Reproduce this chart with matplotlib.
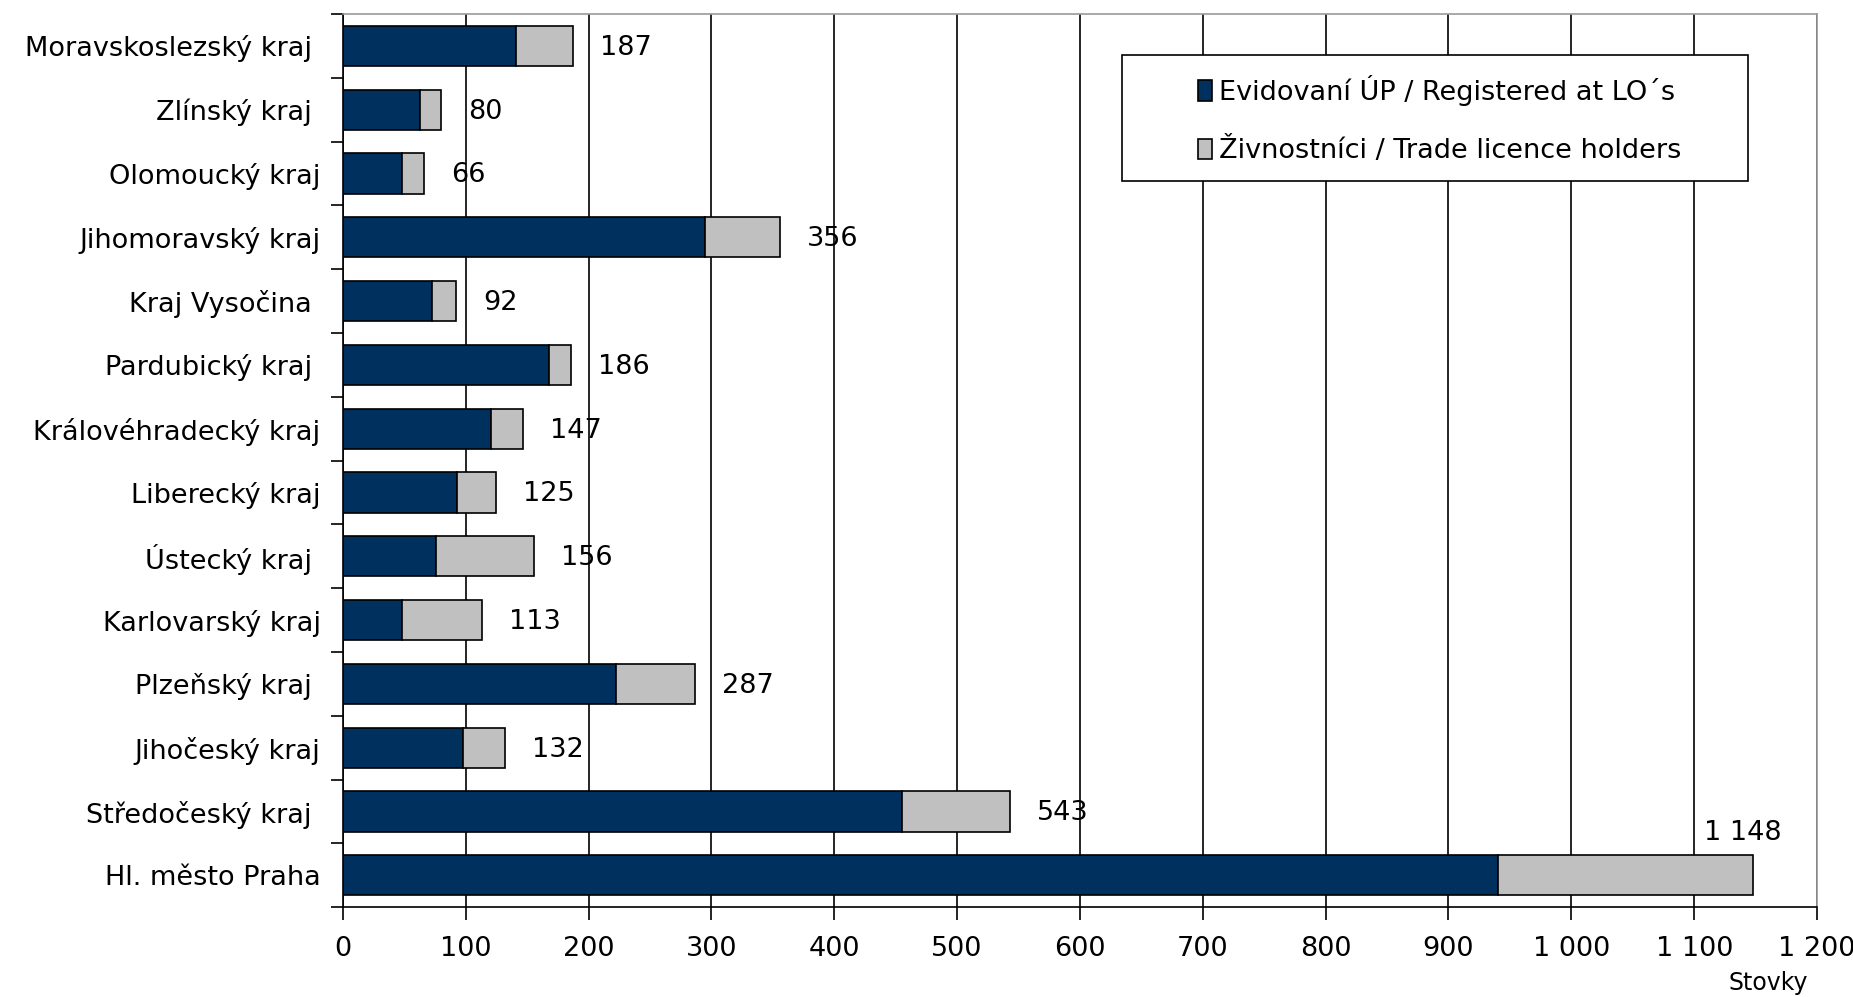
import numpy as np
import matplotlib.pyplot as plt
from matplotlib.patches import Rectangle
from matplotlib.ticker import FuncFormatter, FixedLocator

# kraje shora dolu, jak jsou v grafu
regions = ['Moravskoslezský kraj ', 'Zlínský kraj ', 'Olomoucký kraj', 'Jihomoravský kraj',
           'Kraj Vysočina ', 'Pardubický kraj ', 'Královéhradecký kraj', 'Liberecký kraj',
           'Ústecký kraj ', 'Karlovarský kraj', 'Plzeňský kraj ', 'Jihočeský kraj',
           'Středočeský kraj ', 'Hl. město Praha']
registered = [141, 63, 48, 295, 73, 168, 121, 93, 76, 48, 222, 98, 455, 940]
trade = [46, 17, 18, 61, 19, 18, 26, 32, 80, 65, 65, 34, 88, 208]
totals = [187, 80, 66, 356, 92, 186, 147, 125, 156, 113, 287, 132, 543, 1148]
x_ticks = [0, 100, 200, 300, 400, 500, 600, 700, 800, 900, 1000, 1100, 1200]

plt.rcParams['font.family'] = ['DejaVu Sans']
fs = 19.5

fig = plt.figure(figsize=(18.53, 9.97), dpi=100)
ax = fig.add_axes([0.185, 0.090, 0.7956, 0.896])

y = np.arange(len(regions))
ax.barh(y, registered, height=0.63, color='#00305E', edgecolor='black', linewidth=1.2,
        label='Evidovaní ÚP / Registered at LO´s', zorder=3)
ax.barh(y, trade, left=registered, height=0.63, color='#C0C0C0', edgecolor='black',
        linewidth=1.2, label='Živnostníci / Trade licence holders', zorder=3)

def fmt(v):
    return f'{int(v):,}'.replace(',', ' ')

# popisky souctu za sloupci, u Prahy nad sloupcem
for i, t in enumerate(totals):
    if i == len(totals) - 1:
        ax.text(t - 40, i - 0.66, fmt(t), fontsize=fs, ha='left', va='center', zorder=4)
    else:
        ax.text(t + 22, i + 0.03, fmt(t), fontsize=fs, ha='left', va='center', zorder=4)

ax.set_xlim(0, 1200)
ax.set_ylim(len(regions) - 0.5, -0.5)
ax.set_xticks(x_ticks)
ax.xaxis.set_major_formatter(FuncFormatter(lambda v, p: fmt(v)))
ax.xaxis.grid(True, color='black', linewidth=1.2, zorder=0)
ax.set_axisbelow(True)

ax.set_yticks(y)
ax.set_yticklabels(regions)
ax.yaxis.set_minor_locator(FixedLocator(np.arange(-0.5, len(regions), 1.0)))
ax.tick_params(axis='y', which='major', length=0, pad=16, labelsize=fs)
ax.tick_params(axis='y', which='minor', length=9, width=1.2, direction='out')
ax.tick_params(axis='x', which='major', length=9, width=1.2, direction='out', pad=12,
               labelsize=fs)

for s in ['left', 'bottom']:
    ax.spines[s].set_color('black')
    ax.spines[s].set_linewidth(1.2)
for s in ['top', 'right']:
    ax.spines[s].set_color('#999999')
    ax.spines[s].set_linewidth(1.2)

# ramecek legendy je sirsi nez jeji obsah
ax.add_patch(Rectangle((0.5285, 0.8132), 0.425, 0.1404, transform=ax.transAxes,
                       facecolor='white', edgecolor='black', linewidth=1.2, zorder=5))
leg = ax.legend(loc='center left', bbox_to_anchor=(0.5798, 0.8815), fontsize=fs,
                frameon=False, handlelength=0.55, handleheight=0.8, handletextpad=0.25,
                borderpad=0, labelspacing=1.15, borderaxespad=0)
leg.set_zorder(6)

fig.text(0.9545, 0.002, 'Stovky', fontsize=17, ha='center', va='bottom')

plt.savefig('out.png', dpi=100)
